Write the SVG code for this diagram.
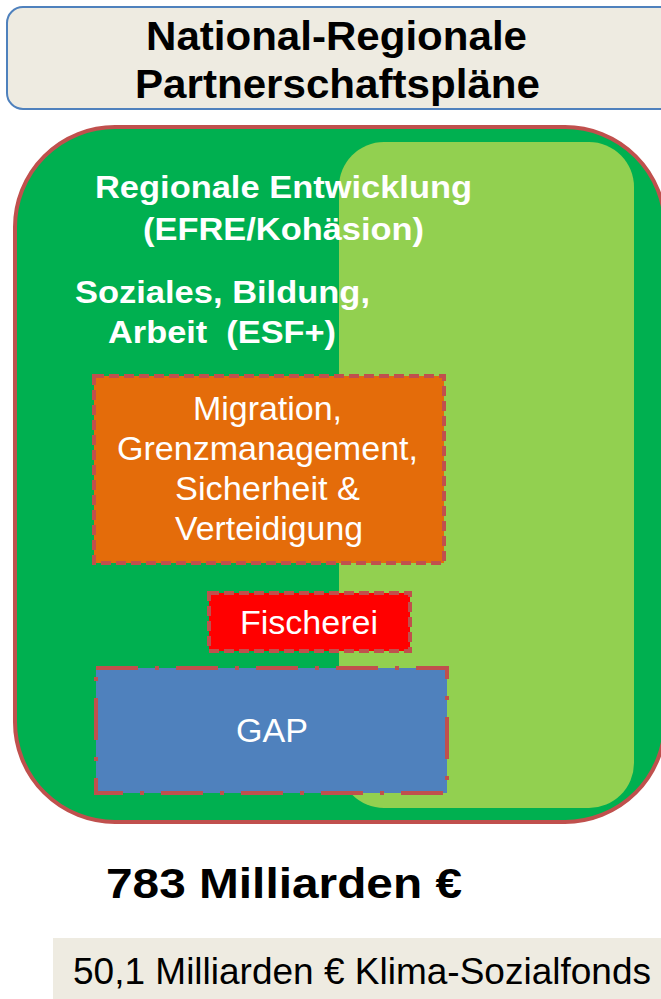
<svg xmlns="http://www.w3.org/2000/svg" width="661" height="999" viewBox="0 0 661 999">
<style>
.b{font-family:"Liberation Sans",Arial,sans-serif;font-weight:bold}
.r{font-family:"Liberation Sans",Arial,sans-serif}
.w{fill:#ffffff}
.k{fill:#000000}
.dash{stroke:#c0504d;stroke-width:4;stroke-dasharray:10 5}
.dashdot{stroke:#c0504d;stroke-width:4;stroke-dasharray:42 17 4 17}
</style>
<rect width="661" height="999" fill="#ffffff"/>
<g id="title">
<rect x="7" y="7" width="670" height="102" rx="16" fill="#eeebe1" stroke="#4f81bd" stroke-width="2"/>
<text class="b k" x="146" y="50" font-size="40" textLength="381" lengthAdjust="spacingAndGlyphs">National-Regionale</text>
<text class="b k" x="135" y="98" font-size="40" textLength="405" lengthAdjust="spacingAndGlyphs">Partnerschaftspläne</text>
</g>
<g id="outer">
<rect x="15" y="127" width="650" height="695" rx="100" fill="#00b050" stroke="#c0504d" stroke-width="4"/>
<rect x="339" y="142" width="295" height="666" rx="45" fill="#92d050"/>
</g>
<g id="efre">
<text class="b w" x="95" y="198" font-size="32" textLength="377" lengthAdjust="spacingAndGlyphs">Regionale Entwicklung</text>
<text class="b w" x="143" y="240" font-size="32" textLength="281" lengthAdjust="spacingAndGlyphs">(EFRE/Kohäsion)</text>
</g>
<g id="esf">
<text class="b w" x="75" y="303" font-size="32" textLength="295" lengthAdjust="spacingAndGlyphs">Soziales, Bildung,</text>
<text class="b w" x="108" y="343" font-size="32" textLength="228" lengthAdjust="spacingAndGlyphs" xml:space="preserve" style="white-space:pre">Arbeit  (ESF+)</text>
</g>
<g id="migration">
<rect x="94" y="376" width="350" height="187" fill="#e46c0a" class="dash"/>
<text class="r w" x="193" y="420" font-size="33" textLength="149" lengthAdjust="spacingAndGlyphs">Migration,</text>
<text class="r w" x="117" y="460" font-size="33" textLength="301" lengthAdjust="spacingAndGlyphs">Grenzmanagement,</text>
<text class="r w" x="175" y="500" font-size="33" textLength="185" lengthAdjust="spacingAndGlyphs">Sicherheit &amp;</text>
<text class="r w" x="175" y="540" font-size="33" textLength="188" lengthAdjust="spacingAndGlyphs">Verteidigung</text>
</g>
<g id="fischerei">
<rect x="209" y="593" width="201" height="58" fill="#ff0000" class="dash"/>
<text class="r w" x="240" y="634" font-size="33" textLength="138" lengthAdjust="spacingAndGlyphs">Fischerei</text>
</g>
<g id="gap">
<rect x="96" y="668" width="351" height="125" fill="#4f81bd" class="dashdot"/>
<text class="r w" x="236" y="742" font-size="33" textLength="72" lengthAdjust="spacingAndGlyphs">GAP</text>
</g>
<g id="total">
<text class="b k" x="106" y="898" font-size="43" textLength="356" lengthAdjust="spacingAndGlyphs">783 Milliarden €</text>
</g>
<g id="klima">
<rect x="53" y="938" width="608" height="61" fill="#eeebe1"/>
<text class="r k" x="73" y="984" font-size="37" textLength="578" lengthAdjust="spacingAndGlyphs">50,1 Milliarden € Klima-Sozialfonds</text>
</g>
<g id="connectors"></g>
</svg>
